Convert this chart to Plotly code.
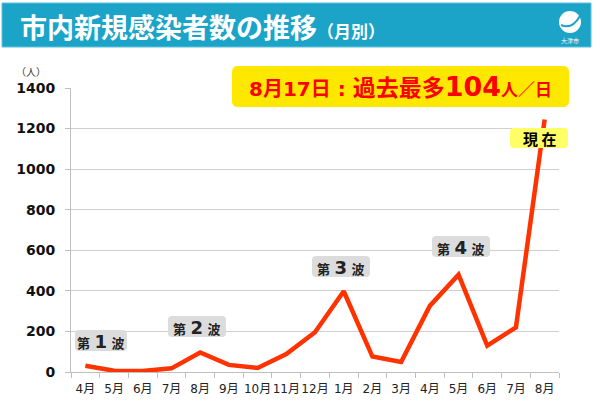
import plotly.graph_objects as go

# ---- data ----
months = ["4月", "5月", "6月", "7月", "8月", "9月", "10月", "11月", "12月",
          "1月", "2月", "3月", "4月", "5月", "6月", "7月", "8月"]
cases = [31, 6, 5, 18, 96, 35, 20, 88, 196, 398, 76, 49, 326, 480, 130, 220, 1245]
y_ticks = [0, 200, 400, 600, 800, 1000, 1200, 1400]
wave_labels = ["1", "2", "3", "4"]

x_idx = list(range(len(months)))

# pixel -> paper helpers (plot area: x 71..559, y 88..372)
PX0, PX1, PY0, PY1 = 71, 559, 372, 88
def fx(px):
    return (px - PX0) / (PX1 - PX0)
def fy(py):
    return (PY0 - py) / (PY0 - PY1)

def rrect(x0, y0, x1, y1, r):
    def P(x, y):
        return f"{fx(x):.5f},{fy(y):.5f}"
    d = (f"M {P(x0 + r, y0)} L {P(x1 - r, y0)} Q {P(x1, y0)} {P(x1, y0 + r)} "
         f"L {P(x1, y1 - r)} Q {P(x1, y1)} {P(x1 - r, y1)} "
         f"L {P(x0 + r, y1)} Q {P(x0, y1)} {P(x0, y1 - r)} "
         f"L {P(x0, y0 + r)} Q {P(x0, y0)} {P(x0 + r, y0)} Z")
    return d

FONT = "DejaVu Sans, Noto Sans CJK JP, sans-serif"

fig = go.Figure()
fig.add_trace(go.Scatter(
    x=x_idx, y=cases, mode="lines",
    line=dict(color="#FF3300", width=4.5),
    hoverinfo="skip", showlegend=False,
))

shapes = []
# title banner
shapes.append(dict(type="rect", xref="paper", yref="paper",
                   x0=fx(2), x1=fx(591), y0=fy(47), y1=fy(3),
                   fillcolor="#1BA4C8", line=dict(color="#5FC0DA", width=1), layer="above"))
# logo (approximation)
shapes.append(dict(type="circle", xref="paper", yref="paper",
                   x0=fx(559), x1=fx(581), y0=fy(33), y1=fy(11),
                   fillcolor="white", line=dict(width=0), layer="above"))
shapes.append(dict(type="path", xref="paper", yref="paper",
                   path=f"M {fx(561):.5f},{fy(25):.5f} Q {fx(572):.5f},{fy(30):.5f} {fx(580):.5f},{fy(16):.5f}",
                   line=dict(color="#1BA4C8", width=2), layer="above"))
# yellow headline box
shapes.append(dict(type="path", xref="paper", yref="paper",
                   path=rrect(232, 66, 569, 107, 6),
                   fillcolor="#FFE800", line=dict(width=0), layer="above"))
# 現在 box
shapes.append(dict(type="path", xref="paper", yref="paper",
                   path=rrect(510, 128, 568, 148, 4),
                   fillcolor="#FFFF66", line=dict(width=0), layer="above"))
# wave boxes
wave_boxes = [(75, 330, 127, 351), (168, 316, 226, 337), (312, 256, 370, 277), (432, 236, 490, 257)]
for (a, b, c, d) in wave_boxes:
    shapes.append(dict(type="path", xref="paper", yref="paper",
                       path=rrect(a, b, c, d, 4),
                       fillcolor="#DCDCDC", line=dict(width=0), layer="above"))

annotations = []
annotations.append(dict(
    xref="paper", yref="paper", x=fx(18), y=fy(26), xanchor="left", yanchor="middle",
    text="<b>市内新規感染者数の推移</b><span style='font-size:17px'><b>（月別）</b></span>",
    showarrow=False, font=dict(family="Noto Sans CJK JP", size=27, color="white")))
annotations.append(dict(
    xref="paper", yref="paper", x=fx(570), y=fy(40), xanchor="center", yanchor="middle",
    text="大津市", showarrow=False, font=dict(family="Noto Sans CJK JP", size=6, color="white")))
annotations.append(dict(
    xref="paper", yref="paper", x=fx(400), y=fy(87), xanchor="center", yanchor="middle",
    text=("<b>8月17日 : </b><b><span style='font-size:23px'>過去最多</span></b>"
          "<b><span style='font-size:27px'>104</span></b>"
          "<b><span style='font-size:17px'>人／日</span></b>"),
    showarrow=False, font=dict(family=FONT, size=20, color="#FF0000")))
annotations.append(dict(
    xref="paper", yref="paper", x=fx(539), y=fy(138.5), xanchor="center", yanchor="middle",
    text="<b>現 在</b>", showarrow=False,
    font=dict(family="Noto Sans CJK JP", size=15, color="black")))
for (a, b, c, d), n in zip(wave_boxes, wave_labels):
    annotations.append(dict(
        xref="paper", yref="paper", x=fx((a + c) / 2), y=fy((b + d) / 2 + 0.5),
        xanchor="center", yanchor="middle",
        text=f"<b>第 </b><b><span style='font-size:18px'>{n}</span></b><b> 波</b>",
        showarrow=False, font=dict(family=FONT, size=13, color="#222222")))
annotations.append(dict(
    xref="paper", yref="paper", x=fx(31), y=fy(71), xanchor="center", yanchor="middle",
    text="（人）", showarrow=False, font=dict(family="Noto Sans CJK JP", size=10, color="#333333")))

fig.update_layout(
    width=600, height=406,
    margin=dict(l=PX0, r=600 - PX1, t=PY1, b=406 - PY0),
    paper_bgcolor="white", plot_bgcolor="white",
    font=dict(family=FONT),
    shapes=shapes, annotations=annotations,
    xaxis=dict(
        range=[-0.5, len(months) - 0.5],
        tickmode="array", tickvals=x_idx, ticktext=months,
        ticks="", showgrid=False, zeroline=False, tickangle=0, automargin=False,
        showline=True, linecolor="#BFBFBF", linewidth=1, ticklabelstandoff=6,
        tickfont=dict(size=12, color="#222222"),
        minor=dict(tickmode="linear", tick0=-0.5, dtick=1, ticks="outside",
                   ticklen=5, tickcolor="#BFBFBF", tickwidth=1, showgrid=False),
        fixedrange=True,
    ),
    yaxis=dict(
        range=[0, 1400], tickmode="array", tickvals=y_ticks,
        ticktext=[f"<b>{v}</b>" for v in y_ticks],
        showgrid=True, gridcolor="#CFCFCF", gridwidth=1, automargin=False,
        zeroline=False, showline=True, linecolor="#BFBFBF", linewidth=1,
        ticks="outside", ticklen=5, tickcolor="#BFBFBF", ticklabelstandoff=7,
        tickfont=dict(size=14, color="#111111"),
        fixedrange=True,
    ),
)

fig.write_html("out.html", config={"displayModeBar": False},
               post_script="document.body.style.margin='0';document.body.style.overflow='hidden';")
